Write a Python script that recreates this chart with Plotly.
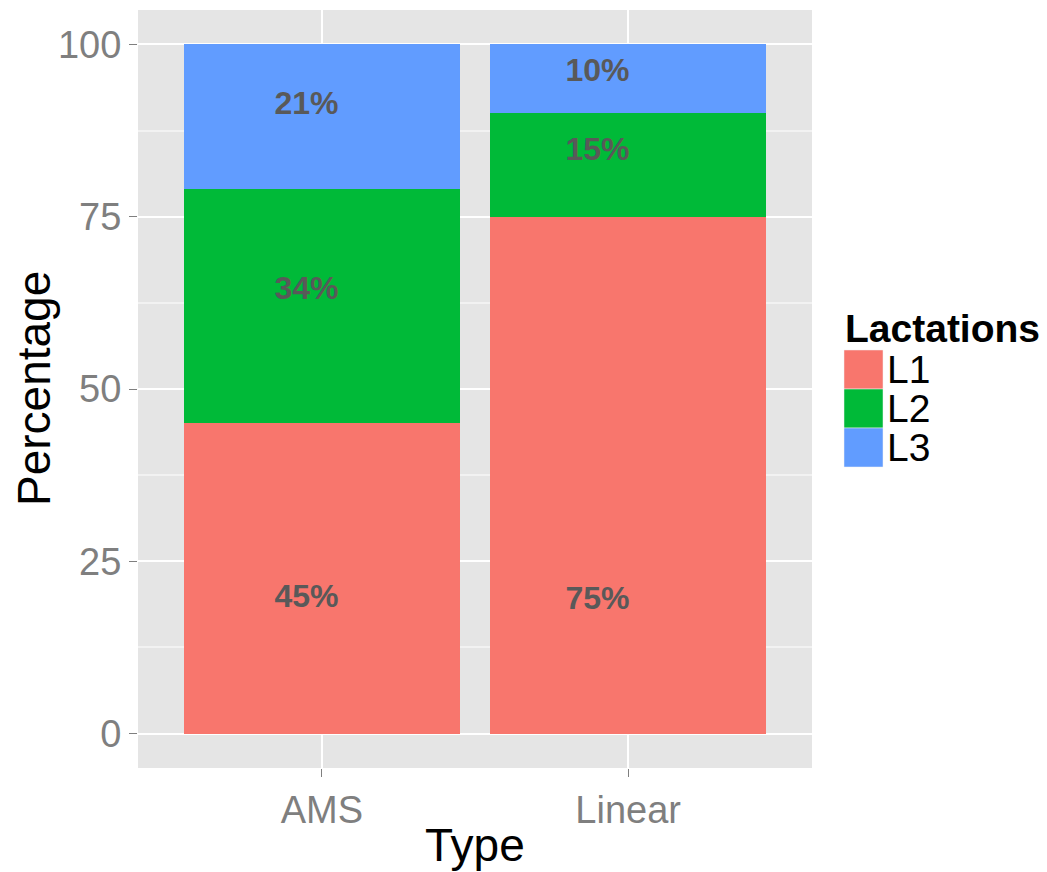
import plotly.graph_objects as go

# ---- data ----
types = ["AMS", "Linear"]
series_names = ["L1", "L2", "L3"]
L1 = [45, 75]
L2 = [34, 15]
L3 = [21, 10]
colors = ["#F8766D", "#00BA38", "#619CFF"]

label_text = ["45%", "34%", "21%", "75%", "15%", "10%"]
label_x = [-0.05, -0.05, -0.05, 0.9, 0.9, 0.9]
label_y = [19.5, 64.2, 91.1, 19.3, 84.4, 95.9]

y_ticks = [0, 25, 50, 75, 100]
y_minor = [12.5, 37.5, 62.5, 87.5]

FONT = "Liberation Sans, Arial, sans-serif"

fig = go.Figure()
xpos = list(range(len(types)))
for name, vals, col in zip(series_names, [L1, L2, L3], colors):
    fig.add_trace(go.Bar(x=xpos, y=vals, name=name, marker=dict(color=col, line=dict(width=0)),
                         width=0.9, showlegend=False))

fig.add_trace(go.Scatter(x=label_x, y=label_y, text=label_text, mode="text",
                         textposition="middle center",
                         textfont=dict(family=FONT, size=32, color="#595959", weight="bold"),
                         showlegend=False, hoverinfo="skip"))

# plot area in pixels
W, H = 1047, 872
L, R, T, B = 138, 235, 10, 104
pw, ph = W - L - R, H - T - B

def px_x(px):
    return (px - L) / pw

def px_y(py):
    return (H - B - py) / ph

fig.update_layout(
    width=W, height=H,
    margin=dict(l=L, r=R, t=T, b=B, autoexpand=False),
    paper_bgcolor="white", plot_bgcolor="#E5E5E5",
    barmode="stack",
    font=dict(family=FONT),
    xaxis=dict(range=[-0.6, 1.6], tickvals=xpos, ticktext=types, showgrid=True,
               gridcolor="white", gridwidth=2, zeroline=False, ticks="outside",
               ticklen=8, tickcolor="#7F7F7F", tickwidth=1,
               tickfont=dict(family=FONT, size=38, color="#7F7F7F"), automargin=False),
    yaxis=dict(range=[-5, 105], tickvals=y_ticks, showgrid=True, gridcolor="white",
               gridwidth=2, zeroline=False, ticks="outside", ticklen=8,
               tickcolor="#7F7F7F", tickwidth=1,
               tickfont=dict(family=FONT, size=38, color="#7F7F7F"), automargin=False,
               minor=dict(tickvals=y_minor, showgrid=True, gridcolor="#F2F2F2", gridwidth=1.5, ticks="")),
)

# axis titles
fig.add_annotation(text="Percentage", x=px_x(34), y=0.5, xref="paper", yref="paper",
                   textangle=-90, showarrow=False, xanchor="center", yanchor="middle",
                   font=dict(family=FONT, size=46, color="black"))
fig.add_annotation(text="Type", x=0.5, y=px_y(845), xref="paper", yref="paper",
                   showarrow=False, xanchor="center", yanchor="middle",
                   font=dict(family=FONT, size=46, color="black"))

# legend (drawn manually for ggplot-like square keys)
fig.add_annotation(text="<b>Lactations</b>", x=px_x(843), y=px_y(328), xref="paper", yref="paper",
                   showarrow=False, xanchor="left", yanchor="middle",
                   font=dict(family=FONT, size=39, color="black"))
key_top = 350
key_h = 39
for i, (name, col) in enumerate(zip(series_names, colors)):
    y0 = key_top + i * key_h
    fig.add_shape(type="rect", xref="paper", yref="paper",
                  x0=px_x(844), x1=px_x(883), y0=px_y(y0 + key_h), y1=px_y(y0),
                  fillcolor=col, line=dict(width=0.5, color="#F0F0F0"))
    fig.add_annotation(text=name, x=px_x(885), y=px_y(y0 + key_h / 2), xref="paper", yref="paper",
                       showarrow=False, xanchor="left", yanchor="middle",
                       font=dict(family=FONT, size=39, color="black"))

fig.write_html("out.html", config={"displayModeBar": False},
               post_script="document.body.style.margin='0';")
